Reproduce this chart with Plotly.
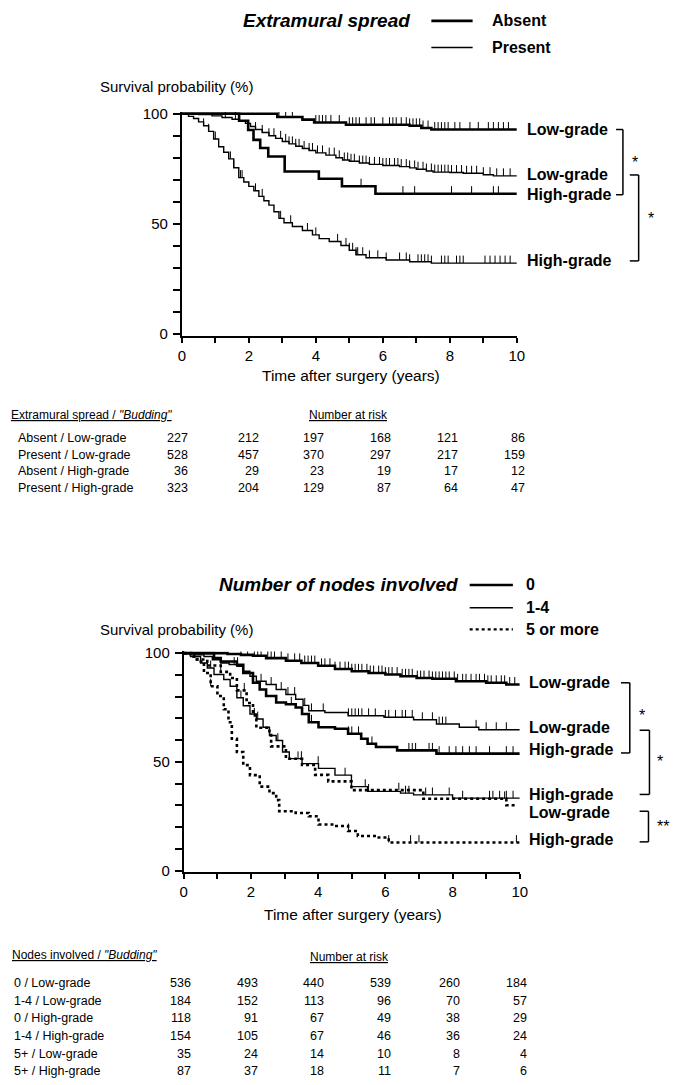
import plotly.graph_objects as go
import numpy as np

# ---------------- DATA ----------------
years_ticks = [0, 1, 2, 3, 4, 5, 6, 7, 8, 9, 10]
years_text = ["0", "", "2", "", "4", "", "6", "", "8", "", "10"]
surv_ticks = [0, 10, 20, 30, 40, 50, 60, 70, 80, 90, 100]
surv_text = ["0", "", "", "", "", "50", "", "", "", "", "100"]

# Top panel: Extramural spread
abs_low_t = [0, 2.85, 3.6, 3.95, 4.9, 6.8, 7.15, 7.45, 10]
abs_low_s = [100, 98.5, 97.3, 96.0, 95.0, 94.5, 93.5, 92.8, 92.8]
abs_low_c = [2.9, 3.1, 3.3, 4.0, 4.1, 4.2, 4.3, 4.45, 4.7, 5.0, 5.1, 5.2, 5.3, 5.5, 5.65, 5.75, 6.0, 6.2,
             6.3, 6.4, 6.55, 6.7, 6.8, 6.9, 7.0, 7.1, 7.2, 7.35, 7.55, 7.65, 7.75, 7.85, 7.95, 8.15, 8.3,
             8.6, 8.85, 9.15, 9.3, 9.45, 9.6, 9.75]

pre_low_t = [0, 0.5, 0.9, 1.2, 1.5, 1.7, 1.9, 2.05, 2.2, 2.4, 2.6, 2.8, 3.0, 3.2, 3.4, 3.6, 3.8, 4.0,
             4.3, 4.6, 4.8, 5.0, 5.3, 5.6, 6.0, 6.5, 6.8, 7.0, 7.3, 7.5, 8.0, 8.4, 9.0, 9.3, 10]
pre_low_s = [100, 99.6, 99.0, 98.3, 97.5, 96.7, 95.6, 94.2, 92.8, 91.5, 90.0, 88.8, 87.4, 86.3, 85.2,
             84.2, 83.3, 82.2, 81.2, 80.0, 79.0, 78.4, 77.6, 77.0, 76.5, 76.0, 75.4, 74.8, 74.0, 73.5,
             73.3, 73.0, 72.3, 71.8, 71.8]
pre_low_c = [1.3, 1.6, 2.2, 2.4, 2.6, 2.75, 2.95, 3.1, 3.2, 3.3, 3.4, 3.5, 3.65, 3.8, 3.9, 4.05, 4.2,
             4.4, 4.55, 4.7, 4.85, 4.95, 5.05, 5.15, 5.3, 5.4, 5.5, 5.6, 5.75, 5.9, 6.0, 6.1, 6.2, 6.35,
             6.45, 6.55, 6.7, 6.8, 6.95, 7.05, 7.2, 7.3, 7.45, 7.55, 7.65, 7.75, 7.85, 7.95, 8.05, 8.2,
             8.35, 8.5, 8.65, 8.8, 9.0, 9.2, 9.4, 9.6, 9.8]

abs_high_t = [0, 1.71, 1.98, 2.14, 2.34, 2.58, 3.07, 4.09, 4.78, 5.78, 10]
abs_high_s = [100, 96.8, 92.6, 88.1, 84.4, 80.6, 73.8, 70.5, 67.1, 63.7, 63.7]
abs_high_c = [5.35, 6.6, 6.95, 8.05, 8.65, 9.3, 9.45]

pre_high_t = [0, 0.2, 0.35, 0.5, 0.65, 0.8, 0.95, 1.1, 1.25, 1.4, 1.55, 1.7, 1.85, 2.0, 2.15, 2.3,
              2.45, 2.6, 2.75, 2.9, 3.05, 3.3, 3.6, 3.9, 4.1, 4.4, 4.75, 5.0, 5.2, 5.5, 6.1, 6.8, 7.45, 10]
pre_high_s = [100, 98.8, 97.8, 96.3, 94.5, 92.0, 88.5, 85.0, 82.5, 79.5, 75.5, 71.0, 69.0, 67.0, 65.0,
              62.5, 60.5, 58.5, 55.5, 52.5, 50.5, 48.8, 47.0, 45.0, 43.3, 42.0, 40.2, 38.0, 36.0, 34.6,
              33.6, 32.8, 32.2, 32.2]
pre_high_c = [0.65, 0.8, 1.0, 1.45, 1.55, 1.75, 1.8, 2.2, 2.4, 2.95, 3.25, 3.75, 4.0, 4.65, 4.9, 5.0,
              5.1, 5.2, 5.25, 5.4, 5.6, 5.85, 6.1, 6.5, 6.7, 6.8, 7.05, 7.15, 7.25, 7.35, 7.45, 7.75,
              7.85, 7.95, 8.2, 8.3, 8.4, 9.05, 9.2, 9.35, 9.5, 9.65, 9.8]

# Bottom panel: Number of nodes involved
n0_low_t = [0, 1.3, 1.7, 2.06, 2.45, 3.04, 3.5, 4.0, 4.5, 5.0, 5.5, 6.0, 6.45, 6.93, 7.4, 8.1, 9.0, 9.6, 10]
n0_low_s = [100, 99.6, 99.2, 98.8, 97.7, 96.5, 95.5, 94.2, 92.7, 91.7, 90.9, 90.2, 89.4, 88.6, 88.2,
            87.1, 86.4, 85.6, 85.6]
n0_low_c = [1.7, 1.9, 2.1, 2.2, 2.3, 2.5, 2.6, 2.7, 2.9, 3.1, 3.3, 3.45, 3.6, 3.7, 3.8, 3.9, 4.1, 4.2,
            4.35, 4.5, 4.65, 4.8, 4.9, 5.0, 5.1, 5.2, 5.3, 5.45, 5.55, 5.65, 5.8, 5.9, 6.0, 6.1, 6.2,
            6.35, 6.5, 6.6, 6.7, 6.8, 6.95, 7.05, 7.15, 7.3, 7.4, 7.5, 7.6, 7.7, 7.8, 7.9, 8.05, 8.15,
            8.3, 8.4, 8.55, 8.7, 8.8, 8.95, 9.05, 9.15, 9.3, 9.45, 9.55, 9.7, 9.85]

n14_low_t = [0, 0.3, 0.6, 0.85, 1.1, 1.35, 1.58, 1.77, 1.97, 2.16, 2.45, 2.75, 3.04, 3.33, 3.55, 3.72,
             4.2, 4.89, 5.96, 6.84, 7.52, 8.2, 8.78, 10]
n14_low_s = [100, 99.2, 98.5, 97.0, 95.5, 94.8, 94.0, 91.7, 89.4, 87.1, 85.6, 83.3, 81.0, 78.8, 76.0,
             73.5, 72.7, 71.2, 70.5, 69.4, 67.4, 65.9, 64.8, 64.8]
n14_low_c = [1.5, 2.3, 2.6, 2.9, 3.1, 3.3, 3.6, 3.8, 4.15, 4.9, 5.0, 5.1, 5.2, 5.3, 5.5, 5.7, 6.0, 6.1,
             6.3, 6.5, 6.6, 6.8, 7.1, 7.4, 7.6, 7.7, 7.8, 8.7, 9.0, 9.3, 9.6]

n0_high_t = [0, 0.9, 1.1, 1.58, 1.77, 2.06, 2.26, 2.45, 2.75, 3.04, 3.33, 3.52, 3.72, 4.01, 4.5, 4.89,
             5.28, 5.47, 5.72, 6.35, 7.52, 10]
n0_high_s = [100, 97.7, 96.2, 94.7, 90.9, 86.4, 83.3, 80.3, 77.3, 76.5, 75.0, 72.0, 68.2, 65.9, 65.2,
             62.9, 60.6, 58.3, 56.8, 55.3, 53.8, 53.8]
n0_high_c = [1.6, 3.2, 3.8, 4.9, 5.0, 5.2, 5.6, 6.7, 6.8, 6.9, 7.3, 7.4, 7.6, 7.9, 8.1, 8.3, 8.5, 8.7,
             9.1, 9.6, 9.8]

n14_high_t = [0, 0.2, 0.5, 0.7, 0.9, 1.19, 1.38, 1.58, 1.77, 1.97, 2.16, 2.36, 2.55, 2.75, 2.94, 3.14,
              3.52, 4.01, 4.5, 4.99, 5.47, 6.45, 6.84, 8.0, 10]
n14_high_s = [100, 98.5, 95.5, 93.2, 90.2, 87.9, 84.8, 79.5, 75.8, 72.0, 69.7, 65.9, 62.1, 59.8, 54.5,
              51.5, 49.2, 47.0, 43.9, 38.6, 36.4, 35.6, 34.8, 33.3, 33.3]
n14_high_c = [0.8, 1.7, 2.2, 2.8, 3.5, 4.0, 4.8, 5.4, 5.5, 6.6, 6.7, 7.2, 7.4, 7.9, 8.3, 9.1, 9.2, 9.4,
              9.6, 9.8]

n5_low_t = [0, 0.3, 0.7, 1.1, 1.38, 1.58, 1.87, 2.06, 2.16, 2.55, 2.6, 3.04, 3.52, 3.91, 4.3, 4.99,
            7.13, 9.6, 9.9]
n5_low_s = [100, 97.1, 94.3, 91.4, 88.6, 82.9, 77.1, 71.4, 65.7, 62.9, 57.1, 51.4, 48.6, 44.0, 41.0,
            37.0, 33.0, 30.0, 30.0]
n5_low_c = [1.1, 1.8, 2.1, 3.4, 6.4, 9.55]

n5_high_t = [0, 0.2, 0.4, 0.6, 0.8, 1.0, 1.19, 1.33, 1.43, 1.58, 1.77, 1.97, 2.26, 2.55, 2.75, 2.84,
             3.33, 3.72, 4.01, 4.5, 4.89, 5.18, 5.76, 6.1, 10]
n5_high_s = [100, 98.5, 96.2, 90.9, 84.8, 80.3, 74.2, 68.2, 60.6, 54.5, 48.5, 43.9, 38.6, 35.6, 32.4,
             27.3, 26.5, 25.0, 21.2, 20.5, 18.2, 15.9, 15.2, 12.9, 12.9]
n5_high_c = [0.8, 4.9, 6.1, 6.75, 7.0, 9.9]

# Number-at-risk tables
top_rows = ["Absent / Low-grade", "Present / Low-grade", "Absent / High-grade", "Present / High-grade"]
top_risk = [[227, 212, 197, 168, 121, 86],
            [528, 457, 370, 297, 217, 159],
            [36, 29, 23, 19, 17, 12],
            [323, 204, 129, 87, 64, 47]]
bot_rows = ["0 / Low-grade", "1-4 / Low-grade", "0 / High-grade", "1-4 / High-grade",
            "5+ / Low-grade", "5+ / High-grade"]
bot_risk = [[536, 493, 440, 539, 260, 184],
            [184, 152, 113, 96, 70, 57],
            [118, 91, 67, 49, 38, 29],
            [154, 105, 67, 46, 36, 24],
            [35, 24, 14, 10, 8, 4],
            [87, 37, 18, 11, 7, 6]]

# ---------------- LAYOUT HELPERS ----------------
W, H = 683, 1085
FONT = "Arial, Liberation Sans, sans-serif"


def px(x):
    return x / W


def py(y):
    return 1 - y / H


YR = [-0.8, 100.8]


def ydomain(p100, p0):
    k = (p0 - p100) / 100.0
    top = p100 - (YR[1] - 100) * k
    bot = p0 + (0 - YR[0]) * k
    return [py(bot), py(top)]


fig = go.Figure()

THICK, THIN, DOT = 2.6, 1.4, 2.6
TICK_UP = 3.4


def add_curve(t, s, cens, xa, ya, width, dash="solid"):
    fig.add_trace(go.Scatter(x=t, y=s, mode="lines", xaxis=xa, yaxis=ya,
                             line=dict(shape="hv", width=width, color="black", dash=dash),
                             hoverinfo="skip", showlegend=False))
    tt = np.array(t)
    ss = np.array(s)
    cx, cy = [], []
    for c in cens:
        i = int(np.searchsorted(tt, c, side="right") - 1)
        v = float(ss[i])
        cx += [c, c, None]
        cy += [v, v + TICK_UP, None]
    fig.add_trace(go.Scatter(x=cx, y=cy, mode="lines", xaxis=xa, yaxis=ya,
                             line=dict(width=1, color="black"),
                             hoverinfo="skip", showlegend=False))


add_curve(abs_low_t, abs_low_s, abs_low_c, "x", "y", THICK)
add_curve(pre_low_t, pre_low_s, pre_low_c, "x", "y", THIN)
add_curve(abs_high_t, abs_high_s, abs_high_c, "x", "y", THICK)
add_curve(pre_high_t, pre_high_s, pre_high_c, "x", "y", THIN)

add_curve(n0_low_t, n0_low_s, n0_low_c, "x2", "y2", THICK)
add_curve(n14_low_t, n14_low_s, n14_low_c, "x2", "y2", THIN)
add_curve(n0_high_t, n0_high_s, n0_high_c, "x2", "y2", THICK)
add_curve(n14_high_t, n14_high_s, n14_high_c, "x2", "y2", THIN)
add_curve(n5_low_t, n5_low_s, n5_low_c, "x2", "y2", DOT, "dot")
add_curve(n5_high_t, n5_high_s, n5_high_c, "x2", "y2", DOT, "dot")

axis_font = dict(family=FONT, size=15, color="black")
xcommon = dict(range=[0, 10], tickvals=years_ticks, ticktext=years_text, ticks="outside",
               ticklen=5, tickwidth=2, tickcolor="black", showline=True, linewidth=2,
               linecolor="black", showgrid=False, zeroline=False, tickfont=axis_font,
               fixedrange=True)
ycommon = dict(range=YR, tickvals=surv_ticks, ticktext=surv_text, ticks="outside",
               ticklen=7, tickwidth=2, tickcolor="black", showline=True, linewidth=2,
               linecolor="black", showgrid=False, zeroline=False, tickfont=axis_font,
               fixedrange=True, ticklabelstandoff=2)

fig.update_layout(
    width=W, height=H, margin=dict(l=0, r=0, t=0, b=0),
    paper_bgcolor="white", plot_bgcolor="white", showlegend=False,
    font=dict(family=FONT, color="black"),
    xaxis=dict(domain=[px(181), px(522)], anchor="y", **xcommon),
    yaxis=dict(domain=ydomain(108, 331), anchor="x", **ycommon),
    xaxis2=dict(domain=[px(183), px(525)], anchor="y2", **xcommon),
    yaxis2=dict(domain=ydomain(654, 874), anchor="x2", **ycommon),
)

ann = []


def text(x, y, s, size=15, xanchor="left", bold=False, italic=False):
    if bold:
        s = "<b>" + s + "</b>"
    if italic:
        s = "<i>" + s + "</i>"
    ann.append(dict(x=px(x), y=py(y), xref="paper", yref="paper", text=s, showarrow=False,
                    xanchor=xanchor, yanchor="middle", borderpad=0,
                    font=dict(family=FONT, size=size, color="black")))


shapes = []


def seg(x0, y0, x1, y1, w=1.5, dash="solid"):
    shapes.append(dict(type="line", xref="paper", yref="paper", x0=px(x0), y0=py(y0), x1=px(x1),
                       y1=py(y1), line=dict(color="black", width=w, dash=dash)))


# Axis titles
text(97, 80, "Survival probability (%)", 15)
text(97, 630, "Survival probability (%)", 15)
text(353, 373, "Time after surgery (years)", 15.5, xanchor="center")
text(355, 918, "Time after surgery (years)", 15.5, xanchor="center")

# Top legend
text(242, 14, "Extramural spread", 19, bold=True, italic=True)
seg(435, 14, 477, 14, 2.6)
seg(435, 41, 477, 41, 1.4)
text(496, 14, "Absent", 16, bold=True)
text(496, 41, "Present", 16, bold=True)

# Bottom legend
text(218, 585, "Number of nodes involved", 19, bold=True, italic=True)
seg(474, 585, 518, 585, 2.6)
seg(474, 608, 518, 608, 1.4)
seg(474, 630, 518, 630, 2.2, "dot")
text(530, 585, "0", 16, bold=True)
text(530, 608, "1-4", 16, bold=True)
text(530, 630, "5 or more", 16, bold=True)

# Right-side curve labels
for yy, lab in [(124, "Low-grade"), (170, "Low-grade"), (190, "High-grade"), (257, "High-grade")]:
    text(531, yy, lab, 16, bold=True)
for yy, lab in [(684, "Low-grade"), (729, "Low-grade"), (752, "High-grade"), (797, "High-grade"),
                (815, "Low-grade"), (843, "High-grade")]:
    text(533, yy, lab, 16, bold=True)


# Brackets
def bracket(xv, xs, y0, y1):
    seg(xs, y0, xv, y0)
    seg(xv, y0, xv, y1)
    seg(xs, y1, xv, y1)


bracket(630, 623, 124, 190)
text(638, 157, "*", 16)
bracket(646, 637, 170, 257)
text(654, 214, "*", 16)

bracket(637, 628, 684, 755)
text(645, 717, "*", 16)
bracket(657, 647, 732, 797)
text(664, 764, "*", 16)
bracket(656, 647, 814, 845)
text(664, 829, "**", 16)

# Tables
col_right = [188, 261, 327, 395, 463, 531]
text(6, 413, "<u>Extramural spread / <i>\"Budding\"</i></u>", 12)
text(351, 413, "<u>Number at risk</u>", 12, xanchor="center")
for i, (lab, vals) in enumerate(zip(top_rows, top_risk)):
    yy = 436 + i * 17
    text(13, yy, lab, 12.5)
    for cx, v in zip(col_right, vals):
        text(cx, yy, str(v), 12.5, xanchor="right")

col_right2 = [191, 260, 327, 395, 465, 533]
text(7, 960, "<u>Nodes involved / <i>\"Budding\"</i></u>", 12)
text(352, 962, "<u>Number at risk</u>", 12, xanchor="center")
for i, (lab, vals) in enumerate(zip(bot_rows, bot_risk)):
    yy = 988 + i * 17.8
    text(9, yy, lab, 12.5)
    for cx, v in zip(col_right2, vals):
        text(cx, yy, str(v), 12.5, xanchor="right")

fig.update_layout(annotations=ann, shapes=shapes)
fig.write_html("out.html", config={"displayModeBar": False},
               post_script="document.body.style.margin='0';")
